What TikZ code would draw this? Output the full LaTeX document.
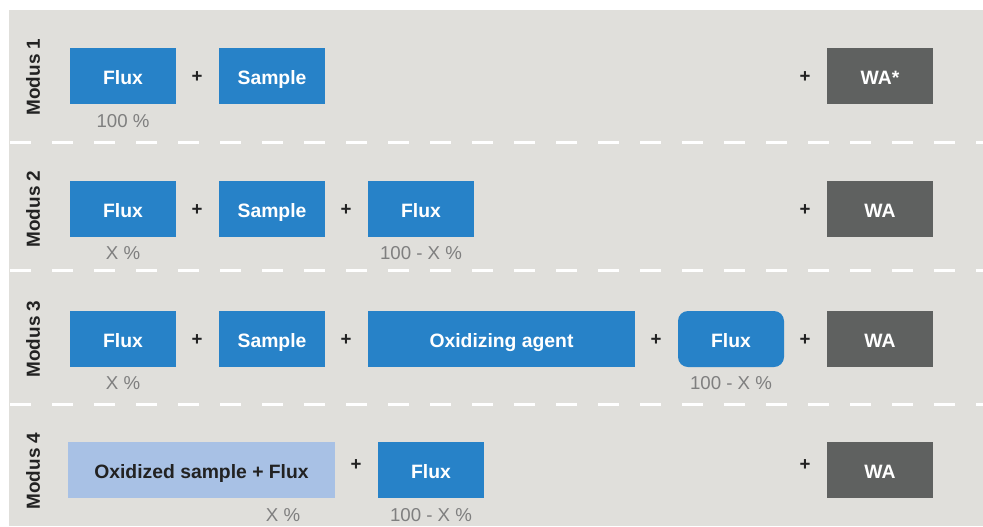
\documentclass[tikz,border=0pt]{standalone}
\usepackage{fontspec}
\setmainfont{Liberation Sans}

\definecolor{bgGrey}{HTML}{E0DFDB}
\definecolor{fluxBlue}{HTML}{2782C8}
\definecolor{waGrey}{HTML}{5F6160}
\definecolor{oxBlue}{HTML}{A8C1E5}
\definecolor{pctGrey}{HTML}{7F7F7F}
\definecolor{darkText}{HTML}{222222}

\tikzset{
  fluxbox/.style={fill=fluxBlue, text=white, font=\bfseries\fontsize{14.5}{17}\selectfont,
    minimum width=79.5pt, minimum height=42pt, inner sep=0pt, text height=12.2pt, text depth=0pt},
  wabox/.style={fluxbox, fill=waGrey},
  widebox/.style={fluxbox, minimum width=200.25pt},
  oxbox/.style={widebox, fill=oxBlue, text=darkText},
  plussign/.style={text=darkText, font=\bfseries\fontsize{14}{16}\selectfont, inner sep=0pt},
  pct/.style={text=pctGrey, font=\fontsize{14}{16}\selectfont, inner sep=0pt,
    text height=10pt, text depth=0pt},
  modlabel/.style={rotate=90, text=darkText, font=\bfseries\fontsize{14.2}{16}\selectfont,
    inner sep=0pt, text height=10.2pt, text depth=0pt},
  rowsep/.style={white, line width=2.25pt, dash pattern=on 15.75pt off 15.75pt}
}

\begin{document}
\begin{tikzpicture}[x=0.75pt, y=-0.75pt]
    \useasboundingbox (0,0) rectangle (983,526);
    \fill[bgGrey] (9,10) rectangle (983,526);

    % row separators
    \draw[rowsep] (10,142) -- (983,142);
    \draw[rowsep] (10,270) -- (983,270);
    \draw[rowsep] (10,404) -- (983,404);

    % Modus 1
    \node[modlabel] (m1) at (33,77) {Modus 1};
    \node[fluxbox] (m1flux) at (123,76) {Flux};
    \node[plussign] (m1p1) at (197,77) {+};
    \node[fluxbox] (m1sample) at (272,76) {Sample};
    \node[plussign] (m1p2) at (805,77) {+};
    \node[wabox] (m1wa) at (880,76) {WA*};
    \node[pct] (m1pct) at (123,121) {100 \%};

    % Modus 2
    \node[modlabel] (m2) at (33,209) {Modus 2};
    \node[fluxbox] (m2flux) at (123,209) {Flux};
    \node[plussign] (m2p1) at (197,210) {+};
    \node[fluxbox] (m2sample) at (272,209) {Sample};
    \node[plussign] (m2p2) at (346,210) {+};
    \node[fluxbox] (m2fluxb) at (421,209) {Flux};
    \node[plussign] (m2p3) at (805,210) {+};
    \node[wabox] (m2wa) at (880,209) {WA};
    \node[pct] (m2pcta) at (123,253) {X \%};
    \node[pct] (m2pctb) at (421,253) {100 - X \%};

    % Modus 3
    \node[modlabel] (m3) at (33,339) {Modus 3};
    \node[fluxbox] (m3flux) at (123,339) {Flux};
    \node[plussign] (m3p1) at (197,340) {+};
    \node[fluxbox] (m3sample) at (272,339) {Sample};
    \node[plussign] (m3p2) at (346,340) {+};
    \node[widebox] (m3ox) at (501.5,339) {Oxidizing agent};
    \node[plussign] (m3p3) at (656,340) {+};
    \node[fluxbox, rounded corners=7.5pt] (m3fluxb) at (731,339) {Flux};
    \node[plussign] (m3p4) at (805,340) {+};
    \node[wabox] (m3wa) at (880,339) {WA};
    \node[pct] (m3pcta) at (123,383) {X \%};
    \node[pct] (m3pctb) at (731,383) {100 - X \%};

    % Modus 4
    \node[modlabel] (m4) at (33,471) {Modus 4};
    \node[oxbox] (m4ox) at (201.5,470) {Oxidized sample + Flux};
    \node[plussign] (m4p1) at (356,465) {+};
    \node[fluxbox] (m4flux) at (431,470) {Flux};
    \node[plussign] (m4p2) at (805,465) {+};
    \node[wabox] (m4wa) at (880,470) {WA};
    \node[pct] (m4pcta) at (283,515) {X \%};
    \node[pct] (m4pctb) at (431,515) {100 - X \%};
\end{tikzpicture}
\end{document}
